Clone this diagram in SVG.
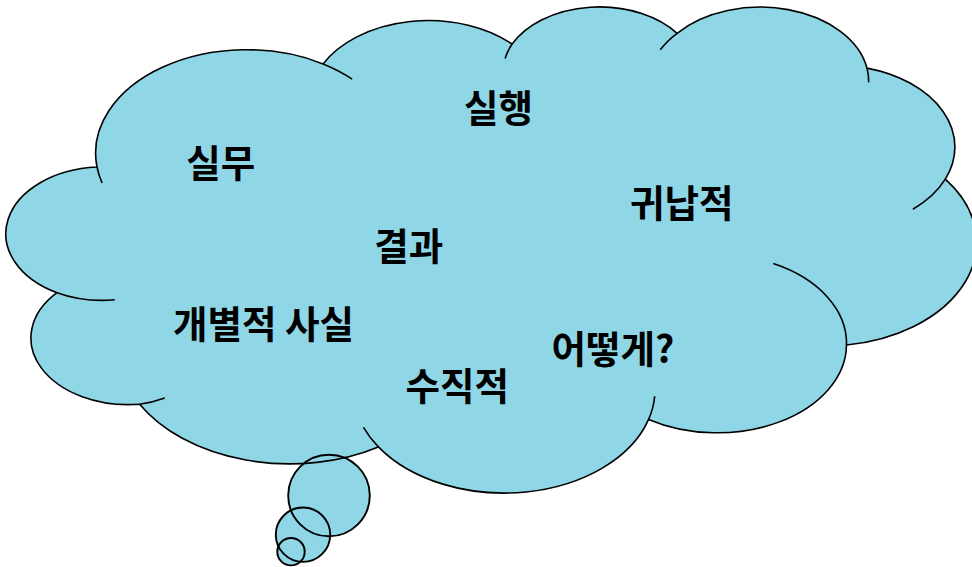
<svg xmlns="http://www.w3.org/2000/svg" width="972" height="567" viewBox="0 0 972 567">
  <style>
    .fill { fill: #8fd7e6; stroke: none; }
    .line { fill: none; stroke: #000; stroke-width: 1.6; stroke-linejoin: round; }
    .bubble { fill: none; stroke: #000; stroke-width: 1.9; }
    .label { font-family: "Noto Sans CJK KR", "Noto Sans", sans-serif; font-weight: bold; font-size: 37.5px; fill: #000; text-anchor: middle; dominant-baseline: central; }
  </style>
  <defs>
    <!-- outer outline of the thought cloud: eleven elliptical lobes -->
    <path id="cloud-shape" d="M97,167
      A151.1,103.4 0 0 1 323.1,63.9
      A119.3,81.7 0 0 1 512.1,44
      A97.6,66.9 0 0 1 677.1,33.3
      A108.7,74.2 0 0 1 867,68.1
      A119.3,81.8 0 0 1 945.3,179.2
      A151.6,103.7 0 0 1 846.5,345
      A129.4,88.5 0 0 1 648.6,419.4
      A151,103.6 0 0 1 378.4,446.9
      A172.7,118.6 0 0 1 139.6,404.2
      A97.5,66.6 0 0 1 57,292.7
      A97.2,66.9 0 0 1 97,167 Z"/>
  </defs>

  <!-- fills first so every outline stays visible on top -->
  <g id="cloud-fill">
    <use href="#cloud-shape" class="fill"/>
    <circle class="fill" cx="329" cy="495.5" r="40.8"/>
    <circle class="fill" cx="303" cy="534.7" r="27.2"/>
    <circle class="fill" cx="291" cy="551.7" r="13.7"/>
  </g>

  <g id="cloud-outline">
    <use href="#cloud-shape" class="line"/>
    <!-- short inner continuations of the lobes -->
    <path class="line" d="M114.8,299.8 A97.2,66.9 0 0 1 57,292.7"/>
    <path class="line" d="M164.8,397.9 A97.5,66.6 0 0 1 139.6,404.2"/>
    <path class="line" d="M378.4,446.9 A151,103.6 0 0 1 363.5,427.4"/>
    <path class="line" d="M654.7,396.2 A151,103.6 0 0 1 648.6,419.4"/>
    <path class="line" d="M773.3,263.6 A129.4,88.5 0 0 1 846.5,345"/>
    <path class="line" d="M945.3,179.2 A119.3,81.8 0 0 1 912.9,209.3"/>
    <path class="line" d="M867,68.1 A108.7,74.2 0 0 1 868.7,82.3"/>
    <path class="line" d="M660.3,49.8 A108.7,74.2 0 0 1 677.1,33.3"/>
    <path class="line" d="M505.1,58.5 A97.6,66.9 0 0 1 512.1,44"/>
    <path class="line" d="M323.1,63.9 A151.1,103.4 0 0 1 352.2,79.1"/>
    <path class="line" d="M102.1,183 A151.1,103.4 0 0 1 97,167"/>
  </g>

  <g id="tail-bubbles">
    <circle class="bubble" cx="329" cy="495.5" r="40.8"/>
    <circle class="bubble" cx="303" cy="534.7" r="27.2"/>
    <circle class="bubble" cx="291" cy="551.7" r="13.7"/>
  </g>

  <g id="labels">
    <text class="label" x="220.8" y="160.2">실무</text>
    <text class="label" x="498.5" y="105.8">실행</text>
    <text class="label" x="681.7" y="200">귀납적</text>
    <text class="label" x="408.8" y="243">결과</text>
    <text class="label" x="263.5" y="321.7">개별적 사실</text>
    <text class="label" x="612.8" y="346.7">어떻게?</text>
    <text class="label" x="457.3" y="383.3">수직적</text>
  </g>
</svg>
